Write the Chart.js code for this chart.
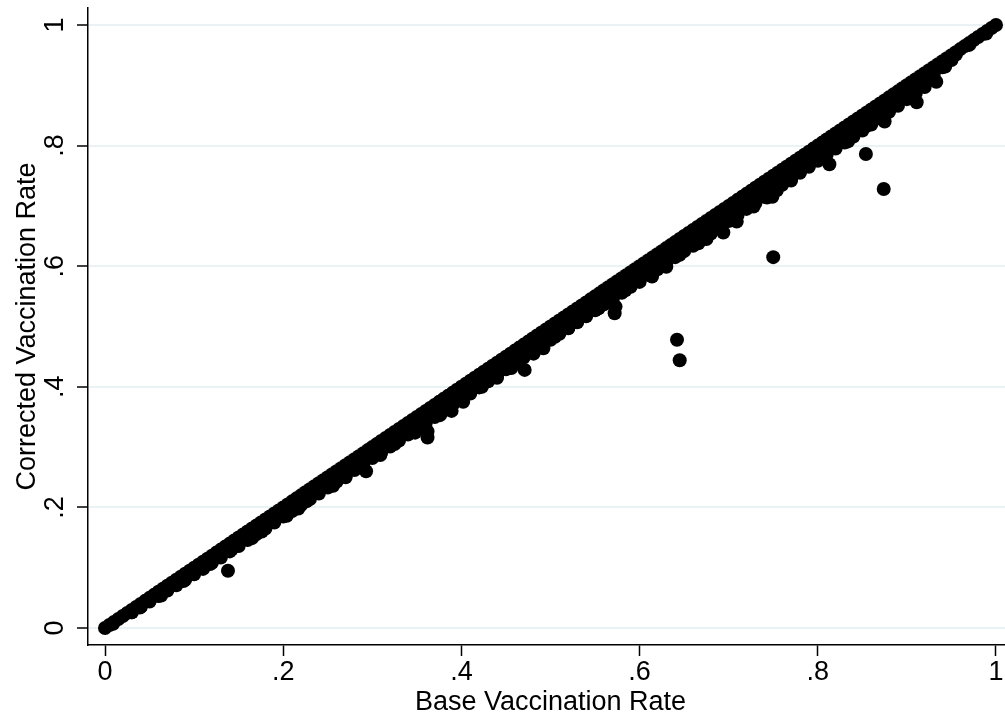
<!DOCTYPE html>
<html>
<head>
<meta charset="utf-8">
<script src="https://cdn.jsdelivr.net/npm/chart.js@4"></script>
<style>
html, body { margin: 0; padding: 0; background: #fff; overflow: hidden; width: 1005px; height: 717px; }
canvas { display: block; }
</style>
</head>
<body>
<canvas id="vaccinationChart" width="1020" height="717"></canvas>
<script>
// counties where the correction changed nothing: base and corrected rate are equal
const unchangedRates = [
    0, .005, .01, .015, .02, .025, .03, .035, .04, .045, .05, .055, .06, .065, .07, .075, .08, .085, .09, .095,
    .1, .105, .11, .115, .12, .125, .13, .135, .14, .145, .15, .155, .16, .165, .17, .175, .18, .185, .19, .195,
    .2, .205, .21, .215, .22, .225, .23, .235, .24, .245, .25, .255, .26, .265, .27, .275, .28, .285, .29, .295,
    .3, .305, .31, .315, .32, .325, .33, .335, .34, .345, .35, .355, .36, .365, .37, .375, .38, .385, .39, .395,
    .4, .405, .41, .415, .42, .425, .43, .435, .44, .445, .45, .455, .46, .465, .47, .475, .48, .485, .49, .495,
    .5, .505, .51, .515, .52, .525, .53, .535, .54, .545, .55, .555, .56, .565, .57, .575, .58, .585, .59, .595,
    .6, .605, .61, .615, .62, .625, .63, .635, .64, .645, .65, .655, .66, .665, .67, .675, .68, .685, .69, .695,
    .7, .705, .71, .715, .72, .725, .73, .735, .74, .745, .75, .755, .76, .765, .77, .775, .78, .785, .79, .795,
    .8, .805, .81, .815, .82, .825, .83, .835, .84, .845, .85, .855, .86, .865, .87, .875, .88, .885, .89, .895,
    .9, .905, .91, .915, .92, .925, .93, .935, .94, .945, .95, .955, .96, .965, .97, .975, .98, .985, .99, .995, 1
];

// slightly corrected counties, inside the thick band
const bandBase = [
    .03, .04, .05, .06, .07, .08, .09, .1, .11, .12, .13, .14, .15, .16, .17, .18, .19, .2, .21, .22,
    .23, .24, .25, .26, .27, .28, .29, .3, .31, .32, .33, .34, .35, .36, .37, .38, .39, .4, .41, .42,
    .43, .44, .45, .46, .47, .48, .49, .5, .51, .52, .53, .54, .55, .56, .57, .58, .59, .6, .61, .62,
    .63, .64, .65, .66, .67, .68, .69, .7, .71, .72, .73, .74, .75, .76, .77, .78, .79, .8, .81, .82,
    .83, .84, .85, .86, .87, .88, .89, .9, .91, .92, .93, .94, .95
];
const bandCorrected = [
    .026, .035, .045, .054, .064, .074, .083, .092, .102, .112, .121, .131, .141, .15, .16, .17, .18, .19, .2, .209,
    .219, .229, .238, .248, .258, .268, .277, .287, .297, .307, .317, .327, .337, .346, .356, .366, .376, .386, .396, .406,
    .415, .425, .435, .445, .455, .465, .475, .485, .495, .505, .515, .525, .535, .545, .555, .565, .575, .585, .595, .605,
    .615, .625, .635, .645, .655, .665, .675, .685, .695, .705, .715, .725, .735, .745, .755, .765, .775, .785, .795, .806,
    .816, .826, .836, .846, .856, .866, .876, .886, .896, .907, .92, .932, .943
];
// deeper row of the band, same base rates
const deepCorrected = [
    .026, .035, .044, .053, .062, .071, .08, .089, .098, .108, .117, .127, .136, .146, .156, .165, .175, .185, .194, .204,
    .214, .223, .233, .243, .252, .262, .272, .282, .291, .301, .311, .321, .331, .34, .35, .36, .37, .379, .389, .399,
    .409, .419, .429, .439, .449, .458, .468, .478, .488, .498, .507, .517, .527, .537, .546, .556, .566, .576, .586, .595,
    .605, .615, .625, .634, .644, .654, .664, .675, .685, .695, .705, .715, .725, .735, .745, .755, .765, .775, .785, .795,
    .805, .815, .825, .835, .845, .856, .866, .877, .887, .897, .917, .93, .942
];

// counties on the lower edge of the band
const edgeBase = [
    .009, .039, .063, .088, .118, .142, .165, .176, .204, .217, .226, .256, .27, .293, .309, .325, .348, .362, .362, .376,
    .389, .402, .423, .44, .456, .471, .481, .492, .505, .52, .54, .554, .572, .573, .584, .6, .614, .63, .645, .666,
    .675, .694, .709, .728, .743, .754, .77, .791, .813, .834, .855, .875, .875, .881, .9, .933, .943, .955, .97, .989
];
const edgeCorrected = [
    .007, .034, .054, .078, .106, .13, .149, .16, .186, .198, .21, .236, .25, .26, .287, .305, .324, .316, .326, .353,
    .36, .375, .4, .415, .431, .428, .455, .464, .483, .497, .52, .53, .522, .533, .56, .574, .583, .599, .619, .638,
    .645, .656, .674, .699, .714, .726, .742, .771, .769, .807, .833, .84, .854, .862, .895, .906, .931, .951, .967, .986
];

// counties well below the band
const outlierBase = [.138, .642, .645, .75, .854, .874, .911, .749];
const outlierCorrected = [.095, .478, .444, .615, .786, .728, .872, .715];

const tickValues = [0, .2, .4, .6, .8, 1];
const tickLabels = ['0', '.2', '.4', '.6', '.8', '1'];

const toPoints = (xs, ys) => xs.map((x, i) => ({ x: x, y: ys[i] }));

const fontFamily = '"Liberation Sans", Arial, sans-serif';
const ink = '#000000';
const gridColor = '#eaf2f3';

const markerSet = (points) => ({
    data: points,
    backgroundColor: ink,
    borderWidth: 0,
    pointRadius: 7,
    pointHoverRadius: 7
});

const useTicks = (axis) => {
    axis.ticks = tickValues.map(v => ({ value: v }));
};

const createChart = () => {
    const ctx = document.getElementById('vaccinationChart').getContext('2d');
    new Chart(ctx, {
        type: 'scatter',
        data: {
            datasets: [
                markerSet(toPoints(unchangedRates, unchangedRates)),
                markerSet(toPoints(bandBase, bandCorrected)),
                markerSet(toPoints(bandBase, deepCorrected)),
                markerSet(toPoints(edgeBase, edgeCorrected)),
                markerSet(toPoints(outlierBase, outlierCorrected))
            ]
        },
        options: {
            responsive: false,
            animation: false,
            layout: { padding: { top: 8, right: 0, bottom: 0, left: 0 } },
            plugins: {
                legend: { display: false },
                tooltip: { enabled: false }
            },
            scales: {
                x: {
                    type: 'linear',
                    min: -0.0191,
                    max: 1.0191,
                    afterBuildTicks: useTicks,
                    afterFit: (axis) => {
                        axis.height = 72;
                        axis.paddingLeft = 0;
                        axis.paddingRight = 0;
                    },
                    border: { color: ink, width: 1.5 },
                    grid: { drawOnChartArea: false, drawTicks: true, tickLength: 11, tickColor: ink, tickWidth: 1.5 },
                    ticks: {
                        autoSkip: false,
                        maxRotation: 0,
                        padding: 0,
                        color: ink,
                        font: { family: fontFamily, size: 27 },
                        callback: (value, i) => tickLabels[i]
                    },
                    title: {
                        display: true,
                        text: 'Base Vaccination Rate',
                        color: ink,
                        font: { family: fontFamily, size: 27 },
                        padding: { top: 0, bottom: -2 }
                    }
                },
                y: {
                    type: 'linear',
                    min: -0.0282,
                    max: 1.0282,
                    afterBuildTicks: useTicks,
                    afterFit: (axis) => {
                        axis.width = 88;
                        axis.paddingTop = 0;
                        axis.paddingBottom = 0;
                    },
                    border: { color: ink, width: 1.5 },
                    grid: { color: gridColor, lineWidth: 2, drawTicks: true, tickLength: 11, tickColor: ink, tickWidth: 1.5 },
                    ticks: {
                        autoSkip: false,
                        minRotation: 90,
                        maxRotation: 90,
                        crossAlign: 'center',
                        padding: 10,
                        color: ink,
                        font: { family: fontFamily, size: 27 },
                        callback: (value, i) => tickLabels[i]
                    },
                    title: {
                        display: true,
                        text: 'Corrected Vaccination Rate',
                        color: ink,
                        font: { family: fontFamily, size: 27 },
                        padding: { top: 11, bottom: 0 }
                    }
                }
            }
        }
    });
};

createChart();
</script>
</body>
</html>
